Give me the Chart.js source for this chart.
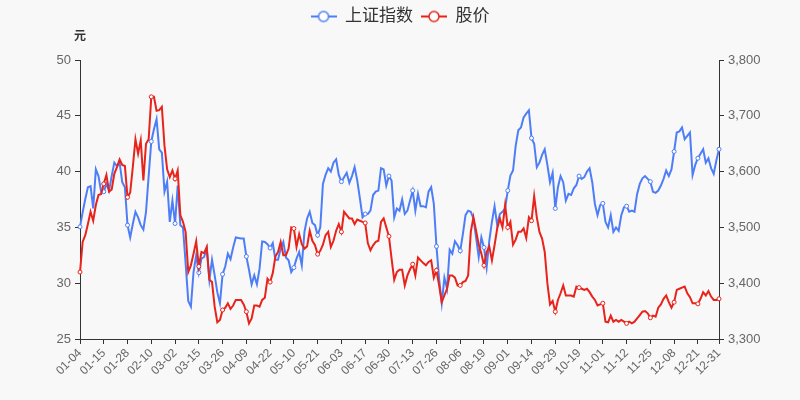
<!DOCTYPE html>
<html>
<head>
<meta charset="utf-8">
<script src="https://cdn.jsdelivr.net/npm/chart.js@4.4.0/dist/chart.umd.min.js"></script>
<style>
  html, body { margin: 0; padding: 0; background: #f8f8f8; }
  #wrap { width: 800px; height: 400px; }
</style>
</head>
<body>
<div id="wrap"><canvas id="priceChart" width="800" height="400"></canvas></div>
<script>
// ── Data ─────────────────────────────────────────────────────────────────────

// trading days of the year (MM-DD)
const dates = [
  '01-04','01-05','01-06','01-07','01-08','01-11','01-12','01-13','01-14','01-15',
  '01-18','01-19','01-20','01-21','01-22','01-25','01-26','01-27','01-28','01-29',
  '02-01','02-02','02-03','02-04','02-05','02-08','02-09','02-10','02-18','02-19',
  '02-22','02-23','02-24','02-25','02-26','03-01','03-02','03-03','03-04','03-05',
  '03-08','03-09','03-10','03-11','03-12','03-15','03-16','03-17','03-18','03-19',
  '03-22','03-23','03-24','03-25','03-26','03-29','03-30','03-31','04-01','04-02',
  '04-06','04-07','04-08','04-09','04-12','04-13','04-14','04-15','04-16','04-19',
  '04-20','04-21','04-22','04-23','04-26','04-27','04-28','04-29','04-30','05-06',
  '05-07','05-10','05-11','05-12','05-13','05-14','05-17','05-18','05-19','05-20',
  '05-21','05-24','05-25','05-26','05-27','05-28','05-31','06-01','06-02','06-03',
  '06-04','06-07','06-08','06-09','06-10','06-11','06-15','06-16','06-17','06-18',
  '06-21','06-22','06-23','06-24','06-25','06-28','06-29','06-30','07-01','07-02',
  '07-05','07-06','07-07','07-08','07-09','07-12','07-13','07-14','07-15','07-16',
  '07-19','07-20','07-21','07-22','07-23','07-26','07-27','07-28','07-29','07-30',
  '08-02','08-03','08-04','08-05','08-06','08-09','08-10','08-11','08-12','08-13',
  '08-16','08-17','08-18','08-19','08-20','08-23','08-24','08-25','08-26','08-27',
  '08-30','08-31','09-01','09-02','09-03','09-06','09-07','09-08','09-09','09-10',
  '09-13','09-14','09-15','09-16','09-17','09-22','09-23','09-24','09-27','09-28',
  '09-29','09-30','10-08','10-11','10-12','10-13','10-14','10-15','10-18','10-19',
  '10-20','10-21','10-22','10-25','10-26','10-27','10-28','10-29','11-01','11-02',
  '11-03','11-04','11-05','11-08','11-09','11-10','11-11','11-12','11-15','11-16',
  '11-17','11-18','11-19','11-22','11-23','11-24','11-25','11-26','11-29','11-30',
  '12-01','12-02','12-03','12-06','12-07','12-08','12-09','12-10','12-13','12-14',
  '12-15','12-16','12-17','12-20','12-21','12-22','12-23','12-24','12-27','12-28',
  '12-29','12-30','12-31'
];

// dates that get an axis label and a marker
const labelDates = [
  '01-04','01-15','01-28','02-10','03-02','03-15','03-26','04-09','04-22','05-10',
  '05-21','06-03','06-17','06-30','07-13','07-26','08-06','08-19','09-01','09-14',
  '09-29','10-19','11-01','11-12','11-25','12-08','12-21','12-31'
];

// 股价 (元, left axis)
const stockPrice = [
  31.0, 33.7, 34.3, 35.3, 36.4, 35.6, 37.0, 37.9, 38.0, 38.9,
  39.7, 38.2, 38.4, 39.8, 40.4, 41.1, 40.6, 40.5, 37.7, 38.1,
  40.4, 42.9, 41.6, 42.8, 39.2, 42.5, 42.9, 46.7, 46.7, 45.45,
  45.5, 45.8, 42.3, 40.2, 39.5, 40.1, 39.35, 40.1, 36.1, 35.5,
  34.6, 31.0, 31.6, 32.65, 33.75, 31.5, 32.8, 32.7, 33.25, 30.3,
  30.1, 27.9, 26.5, 26.7, 27.6, 27.8, 28.2, 27.7, 28.0, 28.5,
  28.5, 28.5, 28.1, 27.45, 26.4, 26.85, 28.0, 28.0, 27.9, 28.5,
  28.7, 30.4, 30.1, 30.9, 32.4, 32.8, 33.7, 32.5, 32.5, 33.1,
  35.0, 34.9, 33.25, 34.4, 33.5, 33.1, 33.3, 34.7, 33.8, 33.4,
  32.6, 32.9, 33.45, 34.3, 34.6, 33.25, 33.8, 34.7, 35.3, 34.6,
  36.4, 36.1, 35.8, 35.8, 35.3, 35.7, 35.6, 35.5, 35.4, 33.6,
  32.95, 33.4, 33.7, 33.8, 35.5, 35.8, 35.0, 34.2, 32.2, 30.3,
  31.0, 31.2, 31.2, 29.8, 30.7, 31.25, 31.7, 30.7, 32.3, 32.05,
  31.8, 31.6, 31.9, 32.05, 30.5, 31.15, 29.8, 28.3, 28.9, 29.5,
  30.7, 30.7, 30.5, 29.8, 29.8, 30.1, 30.2, 30.7, 34.6, 35.9,
  34.7, 33.45, 32.65, 31.6, 32.8, 33.3, 32.05, 33.4, 34.9, 35.8,
  35.0, 37.0, 35.0, 35.5, 33.45, 33.9, 34.6, 34.6, 34.9, 34.05,
  35.9, 35.6, 37.8, 35.9, 34.6, 34.0, 32.8, 30.0, 28.1, 28.4,
  27.45, 28.5, 29.1, 29.8, 28.9, 28.9, 28.9, 28.8, 29.7, 29.6,
  29.5, 29.4, 29.5, 29.2, 28.8, 28.5, 28.0, 28.1, 28.2, 26.55,
  26.5, 27.1, 26.55, 26.7, 26.55, 26.7, 26.55, 26.4, 26.55, 26.4,
  26.55, 26.85, 27.15, 27.45, 27.5, 27.3, 26.9, 27.1, 27.0, 27.8,
  28.1, 28.6, 28.9, 28.3, 27.8, 28.3, 29.4, 29.5, 29.6, 29.7,
  29.1, 28.75, 28.2, 28.2, 28.15, 28.6, 29.2, 28.9, 29.3, 28.8,
  28.5, 28.5, 28.6
];

// 上证指数 (right axis)
const indexClose = [
  3501, 3527, 3551, 3572, 3574, 3534, 3604, 3592, 3564, 3564,
  3578, 3566, 3592, 3616, 3610, 3616, 3581, 3572, 3504, 3482,
  3506, 3528, 3518, 3504, 3496, 3528, 3592, 3654, 3676, 3694,
  3640, 3634, 3564, 3582, 3510, 3548, 3507, 3575, 3504, 3500,
  3436, 3368, 3358, 3420, 3450, 3419, 3444, 3447, 3462, 3406,
  3442, 3414, 3384, 3364, 3416, 3430, 3453, 3443, 3464, 3482,
  3481, 3480, 3480, 3448, 3424, 3398, 3414, 3398, 3426, 3475,
  3474, 3470, 3463, 3472, 3442, 3442, 3462, 3474, 3446, 3441,
  3420, 3428, 3444, 3456, 3432, 3492, 3516, 3528, 3508, 3504,
  3486, 3500, 3578, 3594, 3606, 3600, 3616, 3622, 3594, 3582,
  3590, 3598, 3580, 3592, 3608, 3584, 3552, 3518, 3524, 3524,
  3530, 3558, 3564, 3566, 3606, 3604, 3575, 3592, 3584, 3518,
  3534, 3530, 3550, 3524, 3530, 3548, 3566, 3530, 3560, 3538,
  3538, 3536, 3564, 3572, 3542, 3466, 3408, 3364, 3410, 3390,
  3460, 3453, 3475, 3468, 3458, 3488, 3522, 3530, 3528, 3516,
  3482, 3447, 3482, 3464, 3428, 3476, 3510, 3538, 3504, 3524,
  3528, 3534, 3566, 3593, 3602, 3646, 3674, 3679, 3697, 3704,
  3710, 3660, 3650, 3608, 3616, 3630, 3640, 3612, 3581, 3598,
  3534, 3572, 3592, 3581, 3548, 3560, 3558, 3570, 3576, 3592,
  3587, 3590, 3600, 3606, 3581, 3542, 3522, 3540, 3543, 3510,
  3500, 3522, 3492, 3500, 3494, 3522, 3536, 3538, 3528, 3530,
  3528, 3560, 3578, 3588, 3592, 3587, 3582, 3564, 3562, 3566,
  3575, 3587, 3602, 3592, 3604, 3636, 3670, 3672, 3679, 3658,
  3664, 3670, 3594, 3612, 3624, 3632, 3640, 3616, 3624, 3606,
  3596, 3620, 3640
];

const BLUE = '#4e7ef7';
const RED = '#e8231b';
const BG = '#f8f8f8';
const FONT = '"Liberation Sans", "Noto Sans CJK SC", sans-serif';

// ── Helpers ──────────────────────────────────────────────────────────────────

// line-with-hollow-circle legend icon
function legendIcon(color) {
  const c = document.createElement('canvas');
  c.width = 26;
  c.height = 14;
  const g = c.getContext('2d');
  g.strokeStyle = color;
  g.lineWidth = 2;
  g.beginPath();
  g.moveTo(0, 7);
  g.lineTo(26, 7);
  g.stroke();
  g.beginPath();
  g.arc(13, 7, 5, 0, Math.PI * 2);
  g.fillStyle = '#fff';
  g.fill();
  g.lineWidth = 1.5;
  g.stroke();
  return c;
}

const markerRadius = (ctx) => labelDates.includes(dates[ctx.dataIndex]) ? 2 : 0;

// extra room between legend and plot
const legendGap = {
  id: 'legendGap',
  afterInit(chart) {
    const lg = chart.legend;
    if (!lg) return;
    const fit = lg.fit.bind(lg);
    lg.fit = function () {
      fit();
      this.height += 25;
    };
  },
};

// "元" unit above the left axis
const unitLabel = {
  id: 'unitLabel',
  afterDraw(chart) {
    const { ctx, chartArea } = chart;
    ctx.save();
    ctx.font = 'bold 12px ' + FONT;
    ctx.fillStyle = '#333';
    ctx.textAlign = 'center';
    ctx.textBaseline = 'middle';
    ctx.fillText('元', chartArea.left, 37);
    ctx.restore();
  },
};

const bgFill = {
  id: 'bgFill',
  beforeDraw(chart) {
    const { ctx } = chart;
    ctx.save();
    ctx.fillStyle = BG;
    ctx.fillRect(0, 0, chart.width, chart.height);
    ctx.restore();
  },
};

// ── Chart ────────────────────────────────────────────────────────────────────

const icons = { '上证指数': legendIcon(BLUE), '股价': legendIcon(RED) };

new Chart(document.getElementById('priceChart').getContext('2d'), {
  type: 'line',
  data: {
    labels: dates,
    datasets: [
      {
        label: '上证指数',
        data: indexClose,
        yAxisID: 'yR',
        borderColor: BLUE,
        backgroundColor: BLUE,
        borderWidth: 2,
        pointRadius: markerRadius,
        pointBackgroundColor: '#fff',
        pointBorderColor: BLUE,
        pointBorderWidth: 1,
        tension: 0,
        order: 1,
      },
      {
        label: '股价',
        data: stockPrice,
        yAxisID: 'yL',
        borderColor: RED,
        backgroundColor: RED,
        borderWidth: 2,
        pointRadius: markerRadius,
        pointBackgroundColor: '#fff',
        pointBorderColor: RED,
        pointBorderWidth: 1,
        tension: 0,
        order: 0,
      },
    ],
  },
  options: {
    responsive: false,
    animation: false,
    devicePixelRatio: 1,
    layout: { padding: { top: 0, bottom: 0, left: 0, right: 0 } },
    plugins: {
      legend: {
        position: 'top',
        labels: {
          usePointStyle: true,
          pointStyleWidth: 26,
          padding: 8,
          color: '#333',
          font: { size: 17, family: FONT },
          generateLabels(chart) {
            return chart.data.datasets.map((ds, i) => ({
              text: ds.label,
              pointStyle: icons[ds.label],
              fillStyle: ds.borderColor,
              strokeStyle: ds.borderColor,
              lineWidth: 0,
              fontColor: '#333',
              hidden: !chart.isDatasetVisible(i),
              datasetIndex: i,
            }));
          },
        },
      },
      tooltip: { enabled: false },
    },
    scales: {
      x: {
        type: 'category',
        offset: false,
        grid: { drawOnChartArea: false, drawTicks: true, tickLength: 5, color: '#333' },
        border: { color: '#333', width: 1 },
        ticks: {
          autoSkip: false,
          minRotation: 45,
          maxRotation: 45,
          padding: 2,
          color: '#666',
          font: { size: 12, family: FONT },
          callback: (v, i) => labelDates.includes(dates[i]) ? dates[i] : null,
        },
        afterFit: (s) => { s.height = 61; },
      },
      yL: {
        position: 'left',
        min: 25,
        max: 50,
        grid: { drawOnChartArea: false, drawTicks: true, tickLength: 5, color: '#333' },
        border: { color: '#333', width: 1 },
        ticks: { stepSize: 5, padding: 4, color: '#666', font: { size: 13, family: FONT } },
        afterFit: (s) => { s.width = 80; },
      },
      yR: {
        position: 'right',
        min: 3300,
        max: 3800,
        grid: { drawOnChartArea: false, drawTicks: true, tickLength: 5, color: '#333' },
        border: { color: '#333', width: 1 },
        ticks: { stepSize: 100, padding: 4, color: '#666', font: { size: 13, family: FONT } },
        afterFit: (s) => { s.width = 81; },
      },
    },
  },
  plugins: [legendGap, bgFill, unitLabel],
});
</script>
</body>
</html>
